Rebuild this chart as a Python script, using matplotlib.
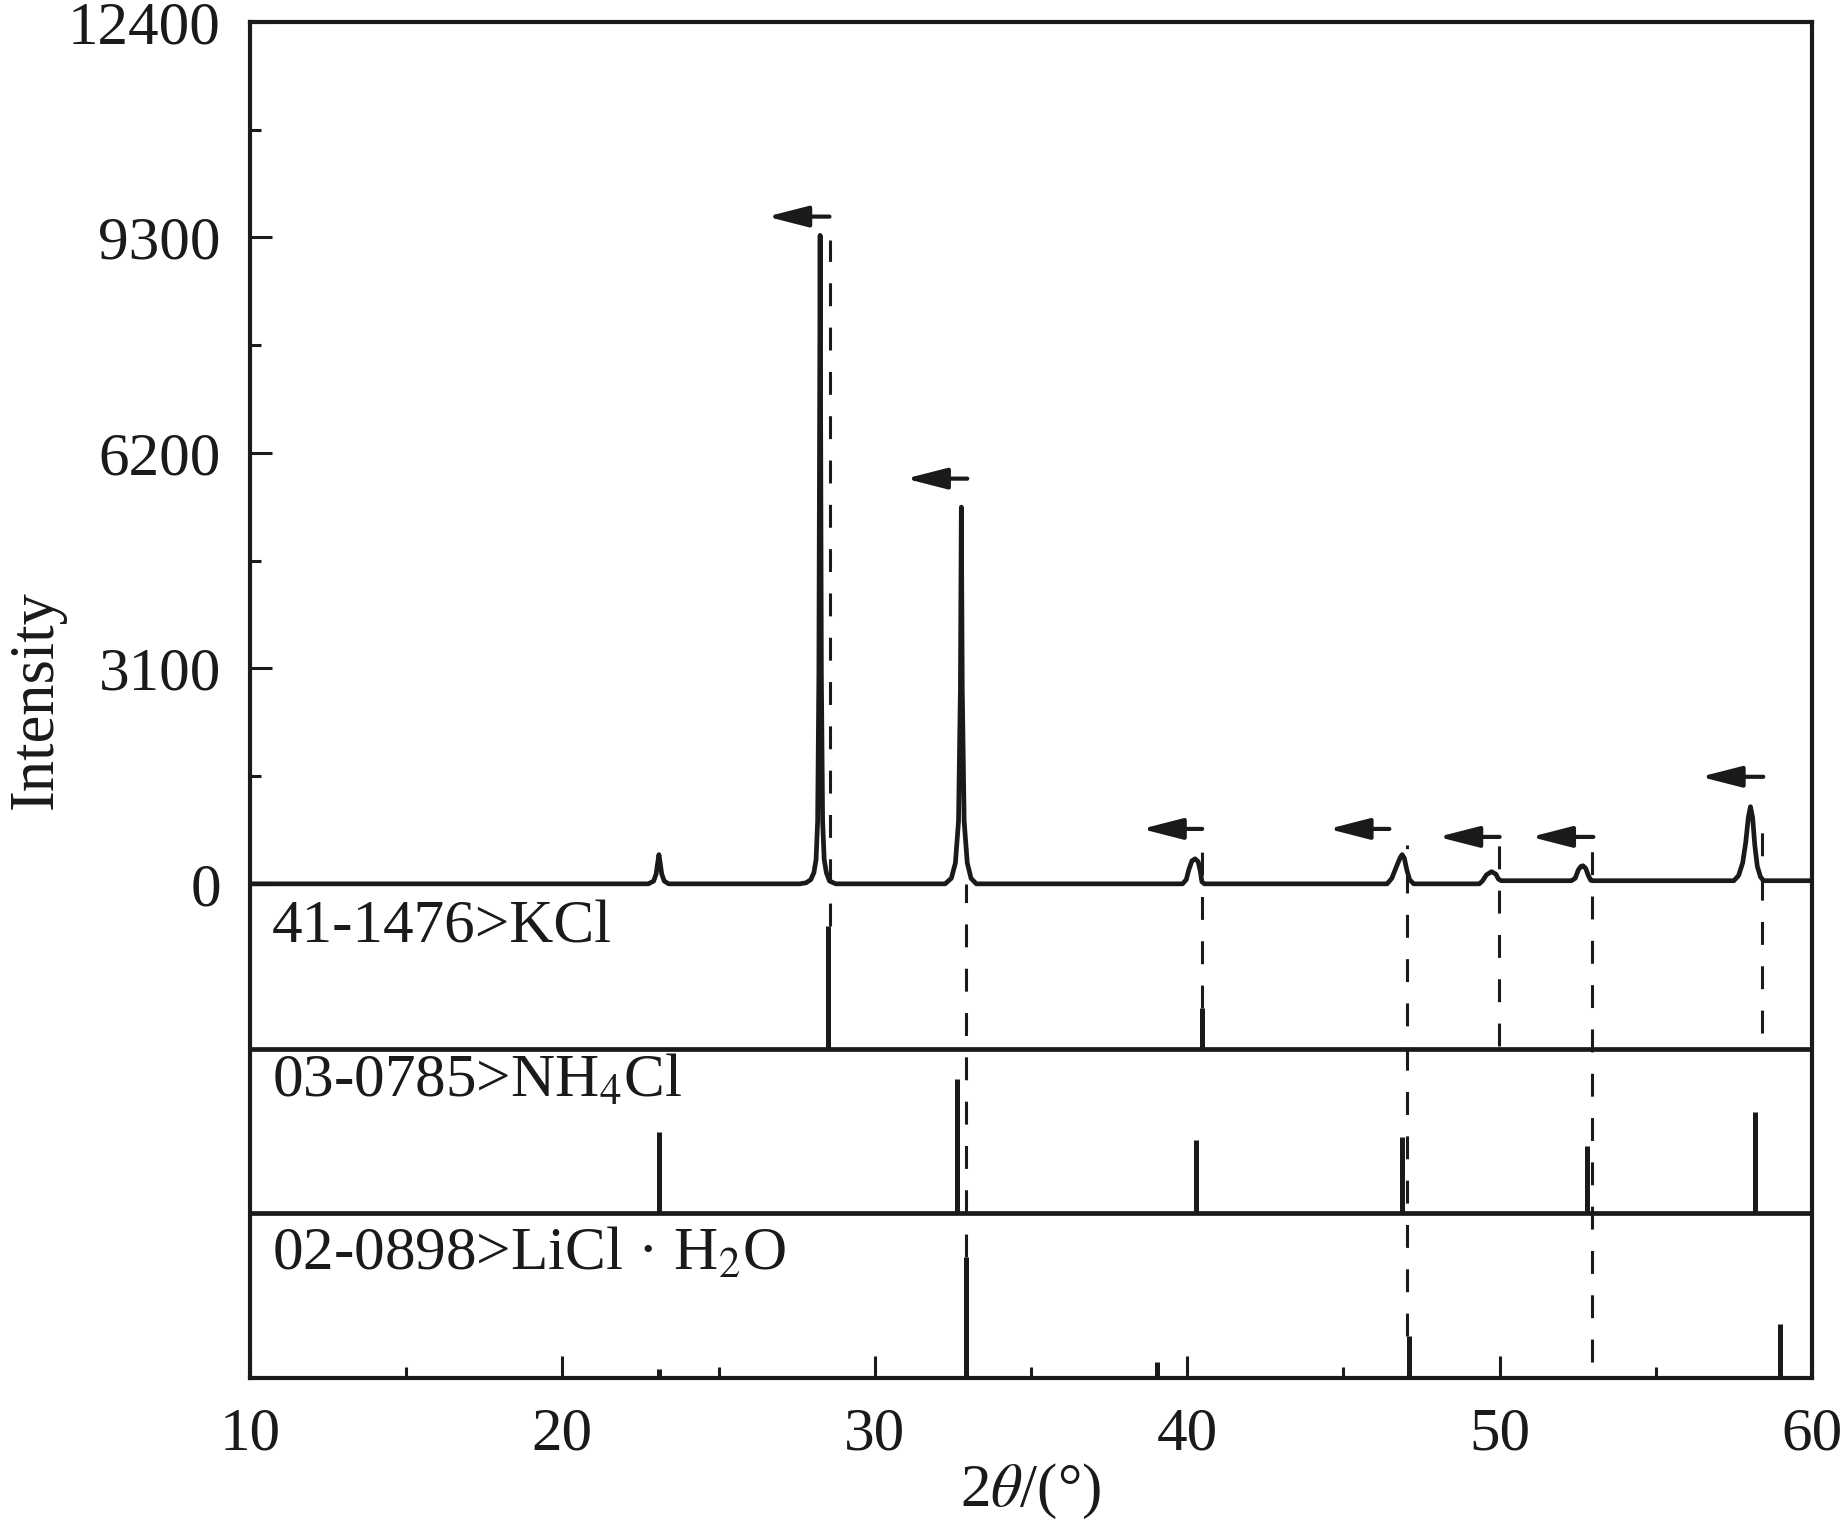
import matplotlib
matplotlib.use('Agg')
import matplotlib.pyplot as plt
from matplotlib.ticker import FixedLocator, MultipleLocator

plt.rcParams['font.family'] = ['Liberation Serif', 'DejaVu Serif']
plt.rcParams['mathtext.fontset'] = 'stix'

INK = '#1a1a1a'

# measured XRD pattern (2theta in deg, intensity in counts)
xrd_2theta = [10.0, 22.75, 22.92, 23.0, 23.05, 23.09, 23.13, 23.18, 23.26, 23.4,
              27.6, 27.8, 27.95, 28.05, 28.12, 28.17, 28.21, 28.25, 28.29, 28.33, 28.38, 28.45, 28.55, 28.75,
              32.25, 32.45, 32.58, 32.68, 32.74, 32.77, 32.8, 32.86, 32.96, 33.08, 33.25,
              39.85, 39.97, 40.05, 40.15, 40.25, 40.35, 40.42, 40.47, 40.55,
              46.4, 46.55, 46.7, 46.82, 46.88, 46.95, 47.03, 47.12, 47.25,
              49.35, 49.45, 49.58, 49.74, 49.88, 49.96, 50.05,
              52.3, 52.42, 52.52, 52.6, 52.67, 52.76, 52.84, 52.92, 53.0,
              57.5, 57.65, 57.78, 57.88, 57.96, 58.03, 58.1, 58.17, 58.25, 58.35, 58.45, 60.0]
xrd_intensity = [0, 0, 40, 140, 300, 420, 300, 140, 40, 0,
                 0, 15, 60, 160, 350, 900, 3000, 9330, 3000, 900, 350, 160, 40, 0,
                 0, 80, 300, 900, 2800, 5420, 2800, 900, 300, 80, 0,
                 0, 60, 200, 330, 360, 320, 180, 30, 0,
                 0, 80, 250, 380, 420, 370, 200, 60, 0,
                 0, 40, 130, 175, 140, 70, 45,
                 45, 80, 200, 250, 260, 220, 120, 50, 45,
                 45, 120, 300, 600, 950, 1110, 950, 550, 250, 100, 45, 45]

# reference cards (stick positions / relative heights)
kcl_pos = [28.5, 40.48]
kcl_h = [1770, 590]
nh4cl_pos = [23.09, 32.64, 40.29, 46.88, 52.8, 58.18]
nh4cl_h = [1165, 1930, 1050, 1095, 965, 1455]
licl_pos = [23.09, 32.93, 39.04, 47.1, 58.98]
licl_h = [130, 1740, 230, 605, 775]
card_labels = ['41-1476>KCl', '03-0785>NH$_4$Cl', '02-0898>LiCl · H$_2$O']

# dashed guide lines: x, top, bottom
guide_x = [28.55, 32.93, 40.48, 47.04, 49.98, 52.96, 58.41]
guide_top = [9270, 0, 560, 560, 560, 560, 1000]
guide_bot = [-600, -5370, -1780, -6505, -2340, -6880, -2140]

# shift arrows: tail x, head x, y
arrow_tail = [28.55, 32.96, 40.48, 46.47, 50.0, 53.0, 58.44]
arrow_head = [26.55, 30.99, 38.54, 44.52, 48.03, 51.0, 56.43]
arrow_y = [9600, 5830, 790, 790, 675, 675, 1540]

panel = 2370
ymin = -3 * panel
label_y = [-850, -3065, -5555]

fig = plt.figure(figsize=(18.45, 15.36), dpi=100)
ax = fig.add_axes([250 / 1845, 1 - 1378 / 1536, 1562 / 1845, 1356 / 1536])

ax.plot(xrd_2theta, xrd_intensity, color=INK, lw=3.4, solid_joinstyle='round')

for i, (pos, h) in enumerate([(kcl_pos, kcl_h), (nh4cl_pos, nh4cl_h), (licl_pos, licl_h)]):
    base = -(i + 1) * panel
    ax.vlines(pos, base, [base + v for v in h], color=INK, lw=3.6)
    ax.text(10.7, label_y[i], card_labels[i], fontsize=44, color=INK,
            ha='left', va='baseline')

for yb in [-panel, -2 * panel]:
    ax.axhline(yb, color=INK, lw=3.4)

ax.vlines(guide_x, guide_bot, guide_top, color=INK, lw=2.2, linestyles=(0, (7.5, 7)))

for xt, xh, ya in zip(arrow_tail, arrow_head, arrow_y):
    ax.annotate('', xy=(xh, ya), xytext=(xt, ya),
                arrowprops=dict(arrowstyle='-|>,head_length=1.25,head_width=0.32',
                                mutation_scale=20, lw=3, color=INK,
                                shrinkA=0, shrinkB=0))

ax.set_xlim(10, 60)
ax.set_ylim(ymin, 12400)
ax.xaxis.set_major_locator(MultipleLocator(10))
ax.xaxis.set_minor_locator(MultipleLocator(5))
ax.yaxis.set_major_locator(FixedLocator([0, 3100, 6200, 9300, 12400]))
ax.yaxis.set_minor_locator(FixedLocator([1550, 4650, 7750, 10850]))
ax.tick_params(which='both', direction='in', width=2.2, colors=INK, labelsize=44, pad=21)
ax.tick_params(which='major', length=16)
ax.tick_params(which='minor', length=8)
for s in ax.spines.values():
    s.set_linewidth(3)
    s.set_color(INK)

ax.set_xlabel(r'2$\theta$/(°)', fontsize=44, color=INK)
ax.xaxis.set_label_coords(0.5, -0.062)
ax.set_ylabel('Intensity', fontsize=45, color=INK)
ax.yaxis.set_label_coords(-0.118, 0.5)

fig.savefig('out.png', dpi=100, facecolor='white')
